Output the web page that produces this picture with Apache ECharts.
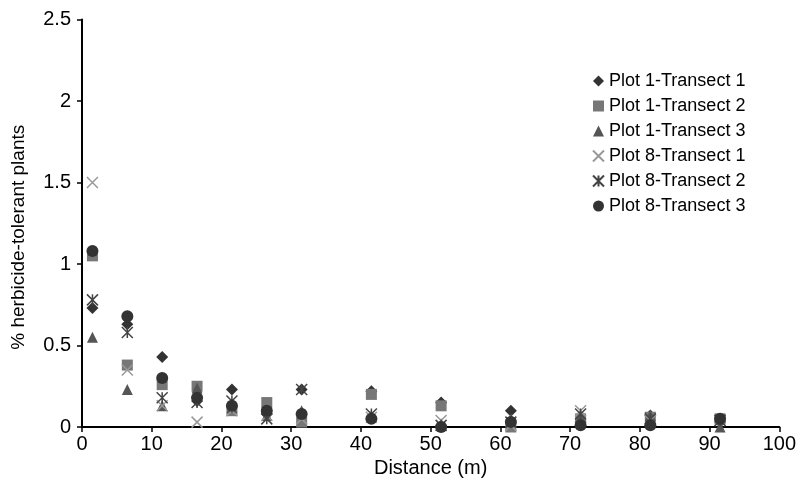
<!DOCTYPE html>
<html>
<head>
<meta charset="utf-8">
<script src="https://cdn.jsdelivr.net/npm/echarts@6/dist/echarts.min.js"></script>
<style>
  html, body { margin: 0; padding: 0; background: #fff; }
  #chart { width: 799px; height: 486px; }
</style>
</head>
<body>
<div id="chart"></div>
<script>
// distances along the transect (m)
var dist = [1.5, 6.5, 11.5, 16.5, 21.5, 26.5, 31.5, 41.5, 51.5, 61.5, 71.5, 81.5, 91.5];

// % herbicide-tolerant plants per plot / transect
var p1t1 = [0.73, 0.63, 0.43, 0.16, 0.23, 0.08, 0.23, 0.22, 0.15, 0.10, 0.03, 0.07, 0.03];
var p1t2 = [1.05, 0.38, 0.26, 0.25, 0.10, 0.15, 0.03, 0.20, 0.13, 0.00, 0.05, 0.06, 0.05];
var p1t3 = [0.55, 0.23, 0.13, 0.24, 0.12, 0.07, 0.10, 0.07, 0.02, 0.05, 0.06, 0.07, 0.00];
var p8t1 = [1.50, 0.35, 0.13, 0.03, 0.10, 0.07, 0.05, 0.06, 0.04, 0.01, 0.10, 0.04, 0.04];
var p8t2 = [0.78, 0.58, 0.18, 0.15, 0.16, 0.05, 0.23, 0.08, 0.01, 0.03, 0.08, 0.05, 0.04];
var p8t3 = [1.08, 0.68, 0.30, 0.18, 0.13, 0.10, 0.08, 0.05, 0.00, 0.03, 0.01, 0.01, 0.05];

var names = ['Plot 1-Transect 1', 'Plot 1-Transect 2', 'Plot 1-Transect 3',
  'Plot 8-Transect 1', 'Plot 8-Transect 2', 'Plot 8-Transect 3'];

function pairs (ys) {
  return ys.map(function (y, i) { return [dist[i], y]; });
}

var myChart = echarts.init(document.getElementById('chart'));
var font = 'Liberation Sans, Arial, Helvetica, sans-serif';

var filled = function (name, ys, symbol, size, color, z) {
  return {
    name: name, type: 'scatter', data: pairs(ys),
    symbol: symbol, symbolSize: size,
    itemStyle: { color: color, opacity: 1 },
    z: z
  };
};
var stroked = function (name, ys, symbol, size, color, z) {
  return {
    name: name, type: 'scatter', data: pairs(ys),
    symbol: symbol, symbolSize: size,
    itemStyle: { color: 'rgba(0,0,0,0)', borderColor: color, borderWidth: 1.5, opacity: 1 },
    z: z
  };
};

var option = {
  animation: false,
  textStyle: { fontFamily: font },
  grid: { left: 82, right: 18, top: 19.5, bottom: 59, containLabel: false },
  legend: {
    orient: 'vertical',
    left: 587,
    top: 66,
    itemWidth: 11,
    itemHeight: 11,
    itemGap: 5,
    textStyle: { fontSize: 18, color: '#000', fontFamily: font, lineHeight: 20 },
    data: names
  },
  xAxis: {
    type: 'value', min: 0, max: 100, interval: 10,
    name: 'Distance (m)', nameLocation: 'middle', nameGap: 29,
    nameTextStyle: { fontSize: 20, color: '#000' },
    axisLine: { lineStyle: { color: '#000', width: 2 } },
    axisTick: { show: true, length: 5, lineStyle: { color: '#000', width: 1.5 } },
    axisLabel: { fontSize: 20, color: '#000', margin: 7 },
    splitLine: { show: false }
  },
  yAxis: {
    type: 'value', min: 0, max: 2.5, interval: 0.5,
    name: '% herbicide-tolerant plants', nameLocation: 'middle', nameGap: 54,
    nameTextStyle: { fontSize: 19, color: '#000', padding: [0, 28, 0, 0] },
    axisLine: { show: true, lineStyle: { color: '#000', width: 2 } },
    axisTick: { show: true, length: 5, lineStyle: { color: '#000', width: 1.5 } },
    axisLabel: { fontSize: 20, color: '#000', margin: 11 },
    splitLine: { show: false }
  },
  series: [
    filled(names[0], p1t1, 'diamond', 12, '#333333', 2),
    filled(names[1], p1t2, 'rect', 11, '#777777', 2),
    filled(names[2], p1t3, 'triangle', 11, '#555555', 2),
    stroked(names[3], p8t1, 'path://M0,0L10,10M0,10L10,0', 11, '#999999', 3),
    stroked(names[4], p8t2, 'path://M0,0L10,10M0,10L10,0M5,0L5,10', 11, '#444444', 3),
    filled(names[5], p8t3, 'circle', 12, '#333333', 4)
  ]
};

myChart.setOption(option);
window.addEventListener('resize', function () {
  myChart.resize();
});
</script>
</body>
</html>
